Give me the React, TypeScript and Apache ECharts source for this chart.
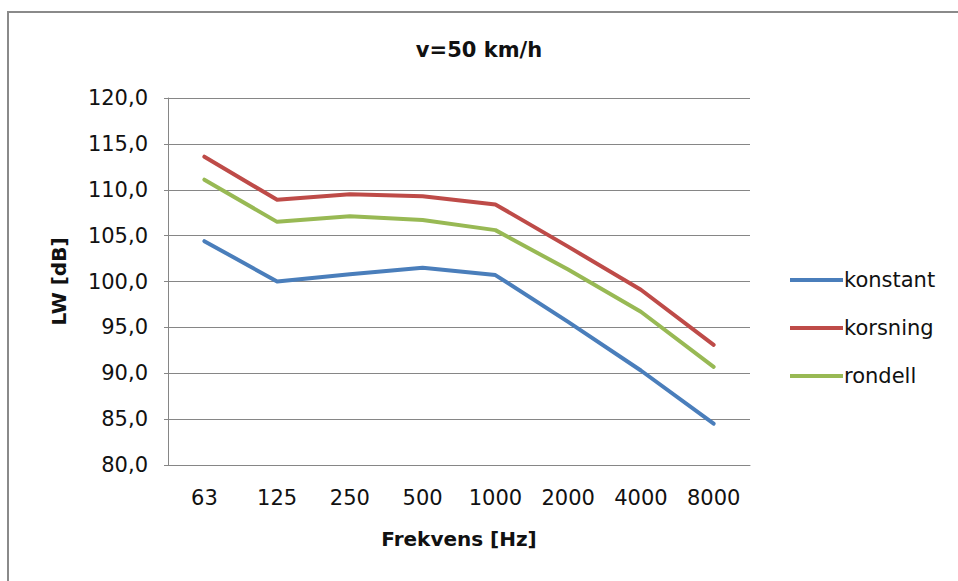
import React, { useEffect, useRef } from "react";
import * as echarts from "echarts";

const categories = ["63", "125", "250", "500", "1000", "2000", "4000", "8000"];
const konstant = [104.4, 100.0, 100.8, 101.5, 100.7, 95.6, 90.3, 84.5];
const korsning = [113.6, 108.9, 109.5, 109.3, 108.4, 103.8, 99.1, 93.1];
const rondell = [111.1, 106.5, 107.1, 106.7, 105.6, 101.3, 96.7, 90.7];
const seriesNames = ["konstant", "korsning", "rondell"];
const colors = ["#4A7EBB", "#BE4B48", "#98B954"];

const FONT = "DejaVu Sans";
const TEXT = "#111111";
const GRID = "#868686";

export default function App() {
  const ref = useRef<HTMLDivElement>(null);
  useEffect(() => {
    if (!ref.current) return;
    const chart = echarts.init(ref.current, undefined, { renderer: "svg" });
    const values = [konstant, korsning, rondell];
    chart.setOption({
      animation: false,
      backgroundColor: "#ffffff",
      title: {
        text: "v=50 km/h",
        left: "center",
        top: 34,
        textStyle: { fontFamily: FONT, fontSize: 21, fontWeight: "bold", color: TEXT },
      },
      graphic: [
        {
          type: "rect",
          silent: true,
          z: -10,
          shape: { x: 8, y: 12, width: 980, height: 620 },
          style: { fill: "none", stroke: "#8a8a8a", lineWidth: 2 },
        },
      ],
      legend: {
        orient: "vertical",
        left: 790,
        top: 269,
        padding: 0,
        icon: "rect",
        itemWidth: 53,
        itemHeight: 4,
        itemGap: 26,
        textStyle: { fontFamily: FONT, fontSize: 21, color: TEXT, lineHeight: 22, padding: [0, 0, 0, -4] },
        data: seriesNames,
      },
      grid: { left: 168, right: 208, top: 98, bottom: 116, containLabel: false },
      xAxis: {
        type: "category",
        data: categories,
        boundaryGap: true,
        name: "Frekvens [Hz]",
        nameLocation: "middle",
        nameGap: 64,
        nameTextStyle: { fontFamily: FONT, fontSize: 20, fontWeight: "bold", color: TEXT },
        axisLine: { lineStyle: { color: GRID, width: 1 } },
        axisTick: { show: false },
        axisLabel: { fontFamily: FONT, fontSize: 21, color: TEXT, margin: 22, interval: 0 },
      },
      yAxis: {
        type: "value",
        min: 80,
        max: 120,
        interval: 5,
        name: "LW [dB]",
        nameLocation: "middle",
        nameGap: 99,
        nameTextStyle: { fontFamily: FONT, fontSize: 20, fontWeight: "bold", color: TEXT },
        axisLine: { show: true, lineStyle: { color: GRID, width: 1 } },
        axisTick: { show: true, length: 4, lineStyle: { color: GRID } },
        splitLine: { lineStyle: { color: GRID, width: 1 } },
        axisLabel: {
          fontFamily: FONT,
          fontSize: 21,
          color: TEXT,
          margin: 20,
          formatter: (v: number) => v.toFixed(1).replace(".", ","),
        },
      },
      series: seriesNames.map((n, i) => ({
        name: n,
        type: "line",
        data: values[i],
        symbol: "none",
        showSymbol: false,
        lineStyle: { color: colors[i], width: 4, cap: "round", join: "round" },
        itemStyle: { color: colors[i] },
      })),
    });
    return () => chart.dispose();
  }, []);
  return (
    <div
      ref={ref}
      style={{ position: "absolute", left: 0, top: 0, width: 958, height: 581 }}
    />
  );
}
